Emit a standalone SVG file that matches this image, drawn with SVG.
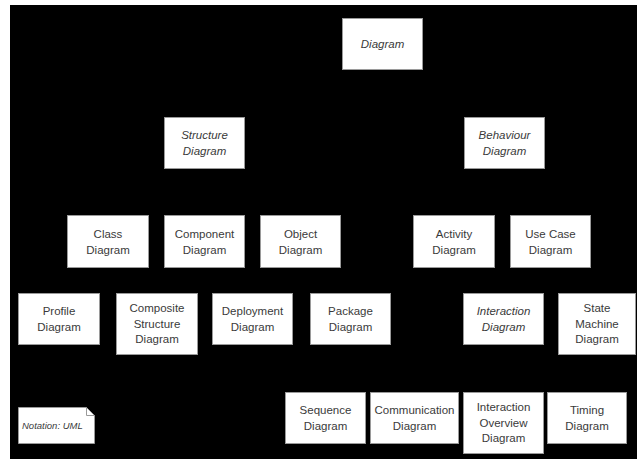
<svg xmlns="http://www.w3.org/2000/svg" width="637" height="459" viewBox="0 0 637 459">
<style>
.box{fill:#ffffff;stroke:#9a9a9a;stroke-width:1}
.t{font-family:"Liberation Sans",Arial,sans-serif;font-size:11.5px;fill:#3a3a3a;text-anchor:middle}
.i{font-style:italic}
.n{font-family:"Liberation Sans",Arial,sans-serif;font-size:9.5px;fill:#3a3a3a;font-style:italic}
</style>
<rect x="0" y="0" width="637" height="459" fill="#ffffff"/>
<rect x="10" y="5" width="627" height="454" fill="#000000"/>
<g id="connectors"></g>
<g id="diagram"><rect class="box" x="342.5" y="18.5" width="80" height="51"/><text class="t i" x="382.5" y="48">Diagram</text></g>
<g id="structure"><rect class="box" x="164.5" y="117.5" width="80" height="51"/><text class="t i" x="204.5" y="139">Structure</text><text class="t i" x="204.5" y="155">Diagram</text></g>
<g id="behaviour"><rect class="box" x="464.5" y="117.5" width="80" height="51"/><text class="t i" x="504.5" y="139">Behaviour</text><text class="t i" x="504.5" y="155">Diagram</text></g>
<g id="class"><rect class="box" x="67.5" y="215.5" width="81" height="52"/><text class="t" x="108" y="238">Class</text><text class="t" x="108" y="254">Diagram</text></g>
<g id="component"><rect class="box" x="164.5" y="215.5" width="80" height="52"/><text class="t" x="204.5" y="238">Component</text><text class="t" x="204.5" y="254">Diagram</text></g>
<g id="object"><rect class="box" x="260.5" y="215.5" width="80" height="52"/><text class="t" x="300.5" y="238">Object</text><text class="t" x="300.5" y="254">Diagram</text></g>
<g id="activity"><rect class="box" x="413.5" y="215.5" width="81" height="52"/><text class="t" x="454" y="238">Activity</text><text class="t" x="454" y="254">Diagram</text></g>
<g id="usecase"><rect class="box" x="510.5" y="215.5" width="80" height="52"/><text class="t" x="550.5" y="238">Use Case</text><text class="t" x="550.5" y="254">Diagram</text></g>
<g id="profile"><rect class="box" x="18.5" y="293.5" width="81" height="51"/><text class="t" x="59" y="315">Profile</text><text class="t" x="59" y="331">Diagram</text></g>
<g id="composite"><rect class="box" x="116.5" y="293.5" width="81" height="61"/><text class="t" x="157" y="312">Composite</text><text class="t" x="157" y="327.5">Structure</text><text class="t" x="157" y="343">Diagram</text></g>
<g id="deployment"><rect class="box" x="212.5" y="293.5" width="80" height="51"/><text class="t" x="252.5" y="315">Deployment</text><text class="t" x="252.5" y="331">Diagram</text></g>
<g id="package"><rect class="box" x="310.5" y="293.5" width="80" height="51"/><text class="t" x="350.5" y="315">Package</text><text class="t" x="350.5" y="331">Diagram</text></g>
<g id="interaction"><rect class="box" x="463.5" y="293.5" width="80" height="51"/><text class="t i" x="503.5" y="315">Interaction</text><text class="t i" x="503.5" y="331">Diagram</text></g>
<g id="statemachine"><rect class="box" x="558.5" y="293.5" width="77" height="61"/><text class="t" x="597" y="312">State</text><text class="t" x="597" y="327.5">Machine</text><text class="t" x="597" y="343">Diagram</text></g>
<g id="sequence"><rect class="box" x="285.5" y="392.5" width="80" height="51"/><text class="t" x="325.5" y="414">Sequence</text><text class="t" x="325.5" y="430">Diagram</text></g>
<g id="communication"><rect class="box" x="370.5" y="392.5" width="88" height="51"/><text class="t" x="414.5" y="414">Communication</text><text class="t" x="414.5" y="430">Diagram</text></g>
<g id="interactionoverview"><rect class="box" x="463.5" y="392.5" width="80" height="61"/><text class="t" x="503.5" y="411">Interaction</text><text class="t" x="503.5" y="426.5">Overview</text><text class="t" x="503.5" y="442">Diagram</text></g>
<g id="timing"><rect class="box" x="547.5" y="392.5" width="79" height="51"/><text class="t" x="587" y="414">Timing</text><text class="t" x="587" y="430">Diagram</text></g>
<g id="note"><path class="box" d="M18.5,407.5 H86.5 L94.5,415.5 V443.5 H18.5 Z"/><path d="M86.5,407.5 V415.5 H94.5" fill="none" stroke="#9a9a9a"/><text class="n" x="22" y="429">Notation: UML</text></g>
</svg>
